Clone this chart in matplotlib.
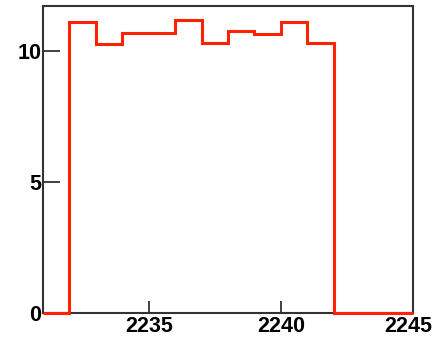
import matplotlib
matplotlib.use("Agg")
import matplotlib.pyplot as plt
import matplotlib.transforms as mtransforms
import numpy as np

bin_edges = [2231, 2232, 2233, 2234, 2235, 2236, 2237, 2238, 2239, 2240, 2241, 2242, 2243, 2244, 2245]
counts = [0, 11.1, 10.24, 10.69, 10.69, 11.16, 10.28, 10.75, 10.64, 11.1, 10.28, 0, 0, 0]
x_ticks = [2235, 2240, 2245]
y_ticks = [0, 5, 10]

plt.rcParams['font.family'] = ['Liberation Sans', 'DejaVu Sans']

fig = plt.figure(figsize=(4.38, 3.40), dpi=100)
ax = fig.add_axes([43/438, 1-313/340, 370/438, 307/340])

ax.stairs(counts, bin_edges, color='#ff2200', linewidth=2.2, zorder=5, clip_on=False)

ax.set_xlim(2231, 2245)
ax.set_ylim(0, 11.7)
ax.set_xticks(x_ticks)
ax.set_yticks(y_ticks)
ax.tick_params(direction='in', length=9, width=1.3, color='#333333', labelsize=15.5, pad=2)
ax.tick_params(axis='y', length=12, pad=1)
for lbl in ax.get_xticklabels() + ax.get_yticklabels():
    lbl.set_fontweight('bold')
for s in ax.spines.values():
    s.set_linewidth(1.5)
    s.set_color('#333333')

last = ax.get_xticklabels()[-1]
last.set_transform(last.get_transform() + mtransforms.ScaledTranslation(-5/100, 0, fig.dpi_scale_trans))

fig.savefig('out.png', dpi=100)
